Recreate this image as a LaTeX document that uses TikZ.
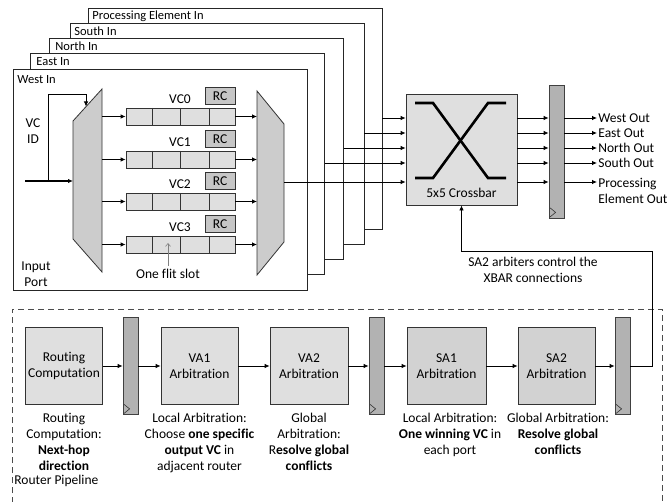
\documentclass[tikz,border=0pt]{standalone}
\usepackage{fontspec}
\setmainfont{Carlito}[Ligatures=NoCommon]
\usetikzlibrary{arrows.meta,calc}
\begin{document}
\begin{tikzpicture}[x=1bp,y=-1bp,
  font=\fontsize{13.5bp}{16bp}\selectfont,
  line width=0.8bp,
  arr/.style={-{Latex[length=5bp,width=4.5bp]}},
  frame/.style={draw=black!85, fill=white, minimum width=294bp, minimum height=221bp, inner sep=0},
  lbl/.style={anchor=west, inner sep=0, font=\fontsize{12.5bp}{15bp}\selectfont},
  cell/.style={draw=black!80, fill=gray!25, minimum width=109bp, minimum height=17bp, inner sep=0},
  rcbox/.style={draw=black!80, fill=gray!45, minimum width=30bp, minimum height=17bp, inner sep=0},
  stage/.style={draw=black!80, fill=gray!25, minimum width=77bp, minimum height=77bp, align=center, inner sep=0},
  sastage/.style={stage, fill=gray!35},
  regbox/.style={draw=black!75, fill=gray!60, minimum width=15bp, inner sep=0},
  muxshape/.style={draw=black!80, fill=gray!40},
  desc/.style={anchor=north, align=center, inner sep=0},
]
\useasboundingbox (0,0) rectangle (667,502);

% stacked input-port frames (back to front)
\node[frame] (fPE) at (235,118.5) {};
\node[lbl] (tPE) at (92,16) {Processing Element In};
\node[frame] (fS) at (217,133.5) {};
\node[lbl] (tS) at (74,31.5) {South In};
\node[frame] (fN) at (196.5,148.5) {};
\node[lbl] (tN) at (55,46.5) {North In};
\node[frame] (fE) at (177.5,163.5) {};
\node[lbl] (tE) at (36,62) {East In};
\node[frame] (fW) at (160,180) {};
\node[lbl] (tW) at (17,80) {West In};

% muxes
\draw[muxshape] (73,121) -- (102,89) -- (102,272) -- (73,239) -- cycle;
\draw[muxshape] (257,91) -- (284,124) -- (284,242) -- (257,275) -- cycle;

% input and VC ID
\coordinate (inStart) at (25,181);
\coordinate (dmIn) at (73,181);
\coordinate (vcTap) at (48,181);
\coordinate (vcTop) at (86,94);
\coordinate (vcEnd) at (86,106.5);
\draw[arr, line width=1.3bp] (inStart) -- (dmIn);
\draw[arr] (vcTap) |- (vcTop) -- (vcEnd);
\node[align=center] (vcid) at (33,131) {VC\\ID};

% VC buffers
\foreach \i/\yy in {0/116.5,1/159.5,2/201.5,3/244.5} {
  \node[cell] (vc\i) at (180.5,\yy) {};
  \foreach \dx in {152,180,209} \draw[black!80] (\dx,\yy-8.5) -- (\dx,\yy+8.5);
  \node[rcbox] (rc\i) at (220,\yy-20.5) {RC};
  \node (vl\i) at (180,\yy-17.5) {VC\i};
  \coordinate (dm\i) at (102,\yy);
  \coordinate (mx\i) at (257,\yy);
  \draw[arr] (dm\i) -- (vc\i.west);
  \draw[arr] (vc\i.east) -- (mx\i);
}
\node (flit) at (168,274) {One flit slot};
\coordinate (slot) at (168,243);
\draw[-{Straight Barb[length=3bp,width=5bp]}, gray, line width=0.6bp] (flit.north) -- (slot);
\node[align=center] (ip) at (36,274) {Input\\Port};

% crossbar
\node[draw=black!80, fill=gray!25, minimum size=111bp, inner sep=0] (xbar) at (461.5,149.5) {};
\draw[line width=2.6bp] (415,103) -- (433,103) -- (488,178) -- (506,178);
\draw[line width=2.6bp] (415,178) -- (433,178) -- (488,103) -- (506,103);
\node (xlab) at (461.5,193) {5x5 Crossbar};

\coordinate (y1) at (0,118);
\coordinate (y2) at (0,133);
\coordinate (y3) at (0,148);
\coordinate (y4) at (0,163);
\coordinate (y5) at (0,182);
\coordinate (mxOut) at (284,182);
\draw[arr] (fPE.east |- y1) -- (xbar.west |- y1);
\draw[arr] (fS.east |- y2) -- (xbar.west |- y2);
\draw[arr] (fN.east |- y3) -- (xbar.west |- y3);
\draw[arr] (fE.east |- y4) -- (xbar.west |- y4);
\draw[arr] (mxOut) -- (xbar.west |- y5);

% output register and outputs
\node[regbox, minimum height=133bp] (regout) at (556.5,151.5) {};
\node[anchor=west, inner sep=1bp] (o1) at (597,118) {West Out};
\node[anchor=west, inner sep=1bp] (o2) at (597,133) {East Out};
\node[anchor=west, inner sep=1bp] (o3) at (597,148) {North Out};
\node[anchor=west, inner sep=1bp] (o4) at (597,163) {South Out};
\node[anchor=west, align=left, inner sep=1bp] (o5) at (597,190.5) {Processing\\Element Out};
\foreach \k in {1,...,5} {
  \draw[arr] (xbar.east |- y\k) -- (regout.west |- y\k);
  \draw[arr] (regout.east |- y\k) -- (o\k.west |- y\k);
}

% pipeline
\draw[dash pattern=on 6bp off 4bp, black!70] (12,503) -- (12,309) -- (662,309) -- (662,503);
\node[stage] (rcs) at (64,366) {Routing\\Computation};
\node[regbox, minimum height=97bp] (reg1) at (130.5,366) {};
\node[stage] (va1) at (199.5,366) {VA1\\Arbitration};
\node[stage, minimum width=78bp] (va2) at (309,366) {VA2\\Arbitration};
\node[regbox, minimum height=97bp] (reg2) at (376.5,366) {};
\node[sastage, minimum width=79bp] (sa1) at (446.5,366) {SA1\\Arbitration};
\node[sastage] (sa2) at (556.5,366) {SA2\\Arbitration};
\node[regbox, minimum height=97bp] (reg3) at (622.5,366) {};
\draw[arr] (rcs) -- (reg1);
\draw[arr] (reg1) -- (va1);
\draw[arr] (va1) -- (va2);
\draw[arr] (va2) -- (reg2);
\draw[arr] (reg2) -- (sa1);
\draw[arr] (sa1) -- (sa2);
\draw[arr] (sa2) -- (reg3);

\foreach \r in {regout,reg1,reg2,reg3}
  \draw[black!80, line width=0.6bp] ($(\r.south west)+(1.5,-1.5)$) -- ++(5.5,-4.5) -- ++(-5.5,-4.5);

% feedback to crossbar
\coordinate (fb) at (652,251);
\draw[arr] (reg3.east) -| (fb) -| (xbar.south);
\node[align=center] (note) at (533,270) {SA2 arbiters control the\\XBAR connections};

% descriptions
\node[desc] (d1) at (64,413) {Routing\\Computation:\\\textbf{Next-hop}\\\textbf{direction}};
\node[desc] (d2) at (199.5,413) {Local Arbitration:\\Choose \textbf{one specific}\\\textbf{output VC} in\\adjacent router};
\node[desc] (d3) at (309,413) {Global\\Arbitration:\\R\textbf{esolve global}\\\textbf{conflicts}};
\node[desc] (d4) at (450,413) {Local Arbitration:\\\textbf{One winning VC} in\\each port};
\node[desc] (d5) at (558,413) {Global Arbitration:\\\textbf{Resolve global}\\\textbf{conflicts}};
\node[anchor=west, inner sep=0] (rp) at (14,481) {Router Pipeline};
\end{tikzpicture}
\end{document}
